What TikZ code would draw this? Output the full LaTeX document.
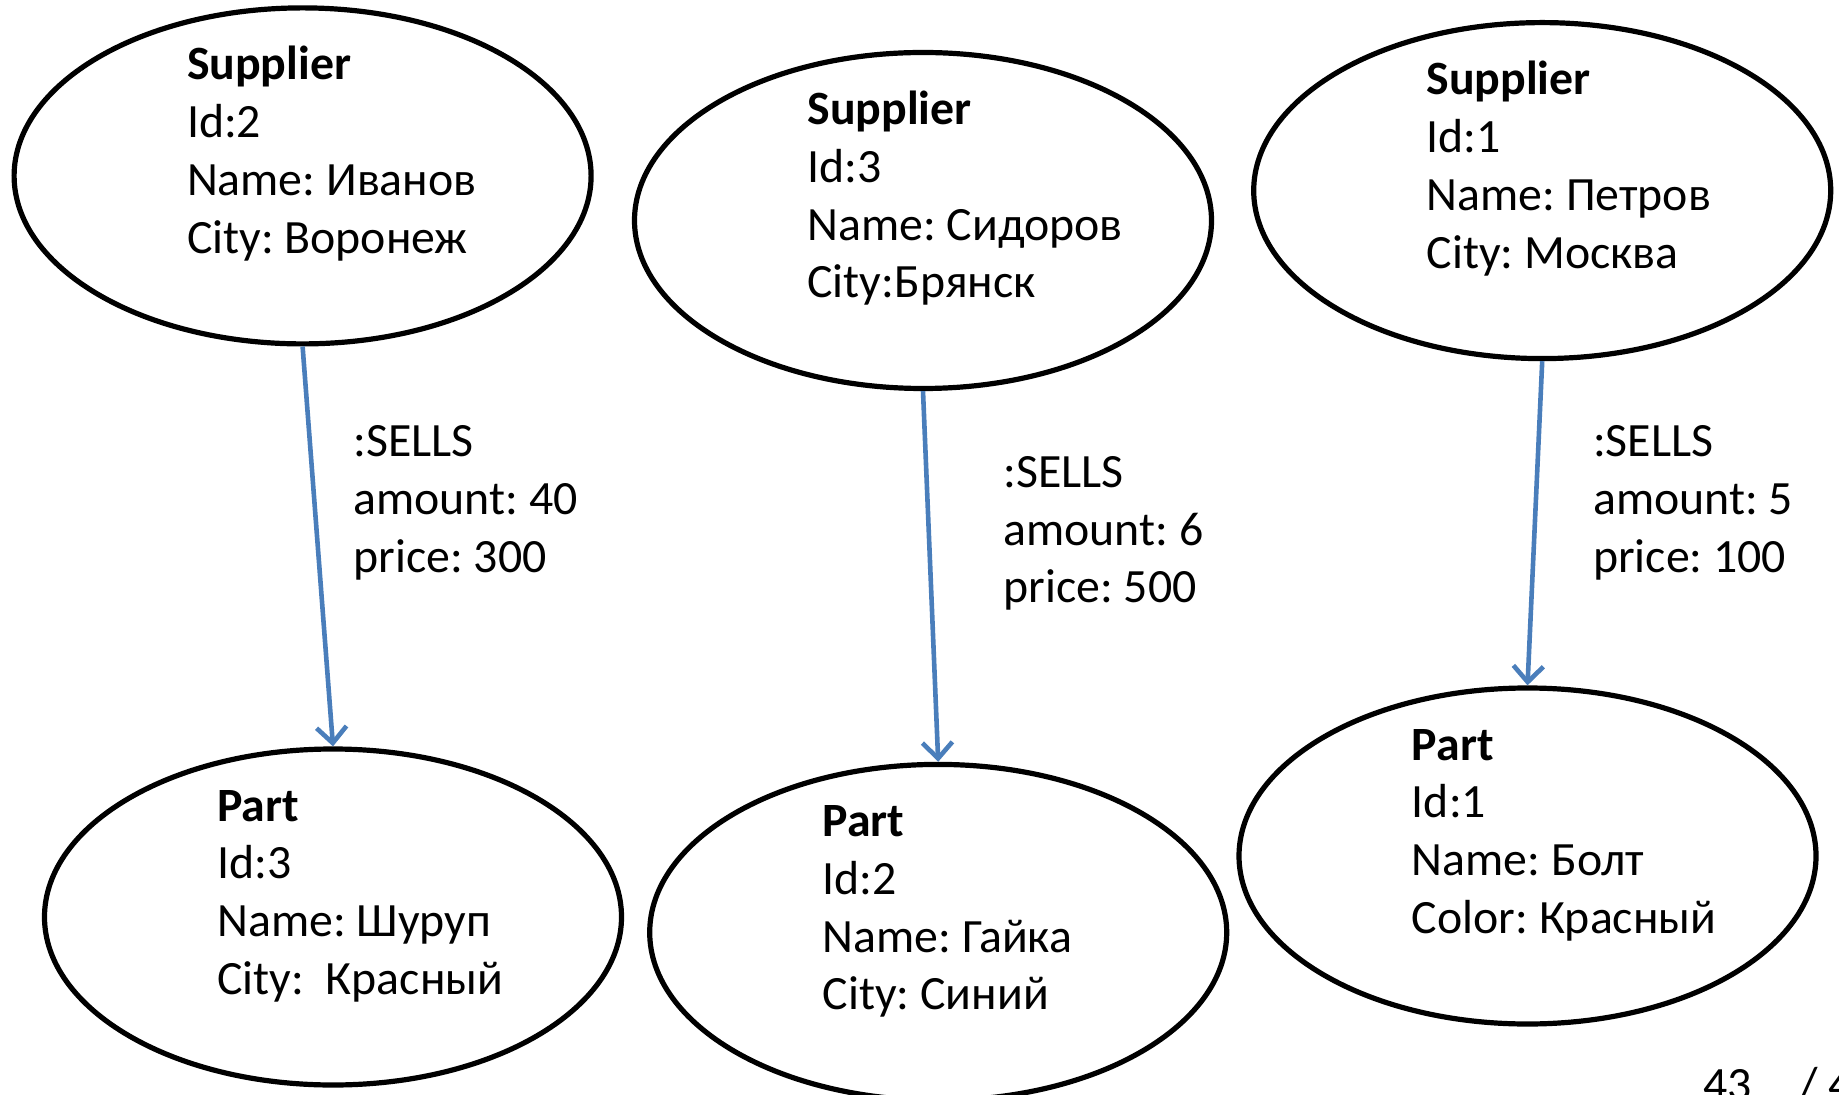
\documentclass[tikz,border=0pt]{standalone}
\usepackage{fontspec}
\setmainfont{Carlito}
\frenchspacing
\usetikzlibrary{shapes.geometric, arrows.meta, positioning}

\definecolor{relblue}{HTML}{4A7EBB}

\begin{document}
\begin{tikzpicture}[
  x=0.5pt, y=-0.5pt,
  ent/.style={draw, ellipse, line width=2.6pt, minimum width=288.5pt,
              minimum height=168pt, inner sep=0pt},
  attr/.style={anchor=base west, align=left, inner sep=0pt,
               font=\fontsize{23.9pt}{28.9pt}\selectfont},
  rel/.style={-{Straight Barb[length=8pt, width=15pt]},
              line width=2.3pt, color=relblue}
]
  \useasboundingbox (0,0) rectangle (1839,1095);

  % suppliers
  \node[ent] (s2) at (302.6,175.9) {};
  \node[ent] (s3) at (923,220.5) {};
  \node[ent] (s1) at (1542.2,190.6) {};

  % parts
  \node[ent] (p3) at (333,917) {};
  \node[ent] (p2) at (938.2,932.4) {};
  \node[ent] (p1) at (1527.5,856) {};

  % base anchor sits on the last line
  \node[attr] (s2t) at ([shift={(-116,77.5)}]s2.center)
    {\textbf{Supplier}\\Id:2\\Name: Иванов\\City: Воронеж};
  \node[attr] (s3t) at ([shift={(-116,77.5)}]s3.center)
    {\textbf{Supplier}\\Id:3\\Name: Сидоров\\City:Брянск};
  \node[attr] (s1t) at ([shift={(-116,77.5)}]s1.center)
    {\textbf{Supplier}\\Id:1\\Name: Петров\\City: Москва};

  \node[attr] (p3t) at ([shift={(-116,77.5)}]p3.center)
    {\textbf{Part}\\Id:3\\Name: Шуруп\\City:~ Красный};
  \node[attr] (p2t) at ([shift={(-116,77.5)}]p2.center)
    {\textbf{Part}\\Id:2\\Name: Гайка\\City: Синий};
  \node[attr] (p1t) at ([shift={(-116,77.5)}]p1.center)
    {\textbf{Part}\\Id:1\\Name: Болт\\Color: Красный};

  % SELLS relations
  \draw[rel] (s2.south) -- (p3.north);
  \draw[rel] (s3.south) -- (p2.north);
  \draw[rel] (s1.south) -- (p1.north);

  \node[attr] (r1) at (353,572.5) {:SELLS\\amount: 40\\price: 300};
  \node[attr] (r2) at (1003,603) {:SELLS\\amount: 6\\price: 500};
  \node[attr] (r3) at (1592.7,572.5) {:SELLS\\amount: 5\\price: 100};

  \node[attr] (pg) at (1703,1100) {43\quad/ 44};
\end{tikzpicture}
\end{document}
